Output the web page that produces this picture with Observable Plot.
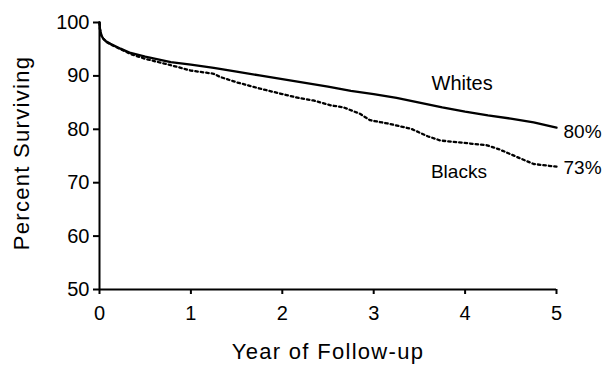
<!DOCTYPE html>
<html><head><meta charset="utf-8">
<script src="https://cdn.jsdelivr.net/npm/d3@7"></script>
<script src="https://cdn.jsdelivr.net/npm/@observablehq/plot@0.6"></script>
<style>body{margin:0;background:#fff}</style>
</head><body><div id="chart"></div>
<script>
const whiteYears = [0, 0.005, 0.02, 0.04, 0.07, 0.12, 0.23, 0.34, 0.5, 0.78, 1.0, 1.25, 1.5, 1.75, 2.0, 2.25, 2.5, 2.75, 3.0, 3.25, 3.5, 3.75, 4.0, 4.25, 4.5, 4.75, 5.0];
const whiteValues = [100, 98.8, 97.6, 97.0, 96.5, 96.0, 95.1, 94.3, 93.6, 92.6, 92.1, 91.5, 90.8, 90.1, 89.4, 88.7, 88.0, 87.2, 86.6, 85.9, 85.0, 84.1, 83.3, 82.6, 82.0, 81.3, 80.3];
const blackYears = [0, 0.005, 0.02, 0.04, 0.07, 0.12, 0.23, 0.34, 0.5, 0.78, 1.0, 1.25, 1.32, 1.5, 1.76, 2.0, 2.2, 2.34, 2.42, 2.53, 2.67, 2.85, 2.96, 3.15, 3.41, 3.59, 3.73, 4.02, 4.24, 4.38, 4.57, 4.75, 5.0];
const blackValues = [100, 98.8, 97.6, 97.0, 96.4, 95.9, 95.0, 94.1, 93.2, 92.0, 91.0, 90.4, 89.8, 88.8, 87.6, 86.6, 85.8, 85.4, 85.0, 84.5, 84.1, 82.9, 81.7, 81.1, 80.1, 78.7, 77.9, 77.4, 77.0, 76.2, 74.8, 73.5, 73.0];
const seriesNames = ["Whites", "Blacks"];
const xTicks = [0, 1, 2, 3, 4, 5];
const yTicks = [50, 60, 70, 80, 90, 100];
const xTitle = "Year of Follow-up";
const yTitle = "Percent Surviving";

const whites = whiteYears.map((year, i) => ({year, value: whiteValues[i]}));
const blacks = blackYears.map((year, i) => ({year, value: blackValues[i]}));

const font = "Liberation Sans, Arial, Helvetica, sans-serif";

const chart = Plot.plot({
  width: 609, height: 367,
  marginLeft: 99, marginRight: 53, marginTop: 22, marginBottom: 78,
  style: {fontFamily: font, fontSize: "20px", color: "#000", background: "#fff", overflow: "visible"},
  x: {domain: [0, 5], label: null},
  y: {domain: [50, 100], label: null},
  marks: [
    Plot.axisX({ticks: xTicks, tickSize: 5, tickPadding: 11, strokeWidth: 2, label: null, tickFormat: d => String(d), fontSize: 20}),
    Plot.axisY({ticks: yTicks, tickSize: 6, tickPadding: 4, strokeWidth: 2, label: null, tickFormat: d => String(d), fontSize: 20}),
    Plot.ruleY([50], {strokeWidth: 2}),
    Plot.ruleX([0], {strokeWidth: 2}),
    Plot.line(blacks, {x: "year", y: "value", stroke: "#000", strokeWidth: 2.3, strokeDasharray: "2.5,3"}),
    Plot.line(whites, {x: "year", y: "value", stroke: "#000", strokeWidth: 2.3}),
    Plot.text([whites.find(d => d.year === 4)], {x: "year", y: "value", text: () => seriesNames[0], dx: -3, dy: -28, fontSize: 20}),
    Plot.text([blacks.find(d => d.year === 4.02)], {x: "year", y: "value", text: () => seriesNames[1], dx: -8, dy: 29, fontSize: 19}),
    Plot.text(whites, Plot.selectLast({x: "year", y: "value", text: d => Math.round(d.value) + "%", textAnchor: "start", dx: 7, dy: 4, fontSize: 19})),
    Plot.text(blacks, Plot.selectLast({x: "year", y: "value", text: d => Math.round(d.value) + "%", textAnchor: "start", dx: 7, dy: 1, fontSize: 19})),
    Plot.text([yTitle], {frameAnchor: "left", textAnchor: "middle", text: d => d, rotate: -90, dx: -78, dy: -3, fontSize: 22}),
    Plot.text([xTitle], {frameAnchor: "bottom", textAnchor: "middle", text: d => d, dy: 69, fontSize: 22})
  ]
});
for (const t of chart.querySelectorAll("text")) {
  if (t.textContent === xTitle || t.textContent === yTitle) t.setAttribute("letter-spacing", "1.3");
}
document.getElementById("chart").appendChild(chart);
</script>
</body></html>
